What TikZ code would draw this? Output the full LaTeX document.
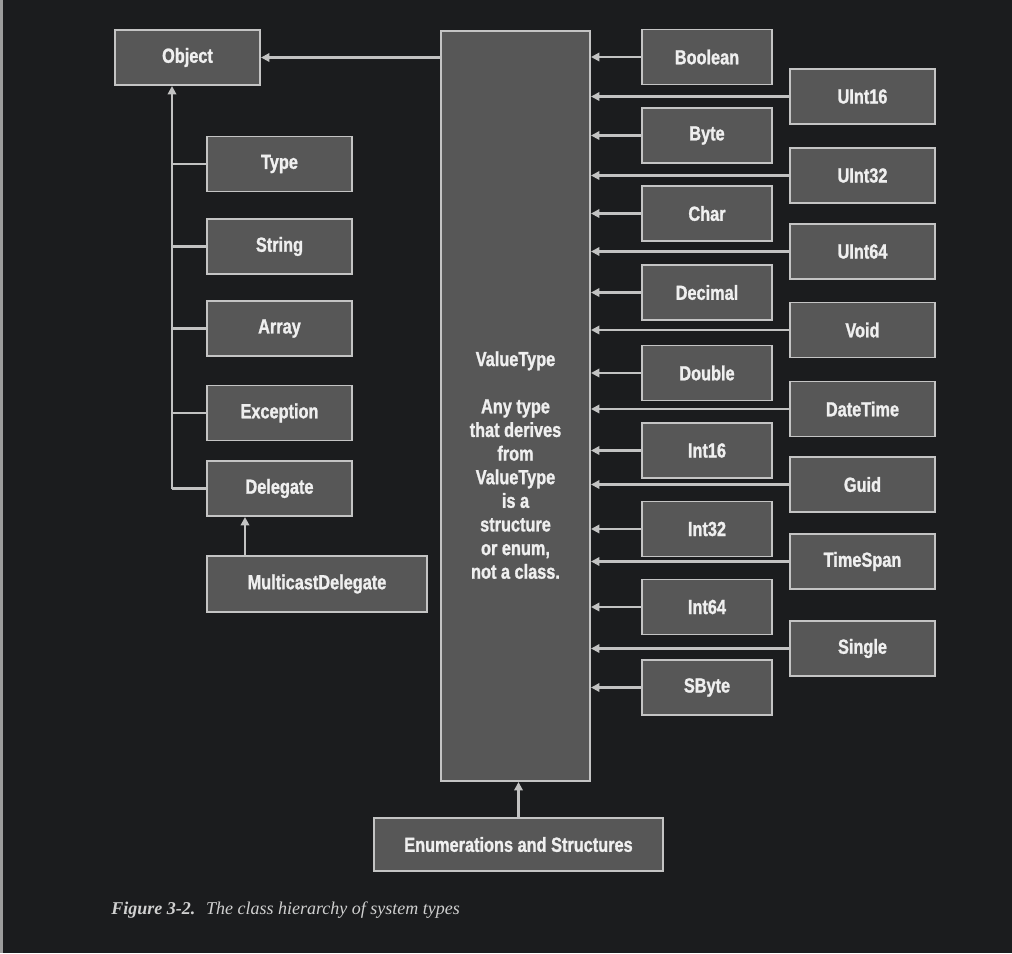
\documentclass[tikz,border=0pt]{standalone}
\usepackage{fontspec}
\usepackage{tikz}
\usetikzlibrary{arrows.meta}
\newfontfamily\boxfont[FakeStretch=0.8,FakeBold=1.2]{Liberation Sans Bold}
\newfontfamily\capfont{Liberation Serif}
\definecolor{bgdark}{HTML}{1B1C1E}
\definecolor{edgegray}{HTML}{9C9C9C}
\definecolor{boxfill}{HTML}{575757}
\definecolor{boxline}{HTML}{C4C4C4}
\definecolor{linkgray}{HTML}{C2C2C2}
\definecolor{labelwhite}{HTML}{EFEFEF}
\definecolor{captiongray}{HTML}{D0D0D0}
\tikzset{
  typebox/.style 2 args={draw=boxline, line width=1.4pt, fill=boxfill, text=labelwhite,
    inner sep=0pt, minimum width=#1*0.025cm, minimum height=#2*0.025cm,
    font=\boxfont\fontsize{14.5}{17}\selectfont},
  vtnote/.style={text=labelwhite, align=center, inner sep=0pt,
    font=\boxfont\fontsize{14.5}{16.8}\selectfont},
  link/.style={draw=linkgray, line width=1.6pt},
  arr/.style={link, -{Triangle[length=6pt,width=6pt]}},
}
\begin{document}
\begin{tikzpicture}[x=0.025cm, y=-0.025cm]
    \useasboundingbox (0,0) rectangle (1012,953);
    % page
    \fill[bgdark] (0,0) rectangle (1012,953);
    \fill[edgegray] (0,0) rectangle (3,953);

    % reference types (left side)
    \node[typebox={145}{55}] (obj) at (187.5,57.5) {Object};
    \node[typebox={145}{55}] (type) at (279.5,164) {Type};
    \node[typebox={145}{55}] (string) at (279.5,246.5) {String};
    \node[typebox={145}{55}] (array) at (279.5,328.5) {Array};
    \node[typebox={145}{55}] (exception) at (279.5,413) {Exception};
    \node[typebox={145}{55}] (delegate) at (279.5,488.5) {Delegate};
    \node[typebox={220}{56}] (mcd) at (317,584) {MulticastDelegate};

    % ValueType column
    \node[typebox={149}{750}] (vt) at (515.5,406) {};
    \node[vtnote, anchor=north] (vttext) at (515.5,351) {ValueType\\[16.8pt]
        Any type\\that derives\\from\\ValueType\\is a\\structure\\or enum,\\not a class.};

    % value types, near row and far row
    \foreach \name/\y in {Boolean/57, Byte/135.5, Char/213.5, Decimal/292.5, Double/373,
                          Int16/450.5, Int32/529, Int64/607, SByte/687.5}
        \node[typebox={130}{55}] (\name) at (707,\y) {\name};
    \foreach \name/\y in {UInt16/96.5, UInt32/175.5, UInt64/251.5, Void/330, DateTime/409,
                          Guid/484.5, TimeSpan/561.5, Single/648.5}
        \node[typebox={145}{55}] (\name) at (862.5,\y) {\name};

    \node[typebox={289}{53}] (enums) at (518.5,844.5) {Enumerations and Structures};

    % inheritance links
    \draw[arr] (vt.west |- obj.east) -- (obj.east);
    \coordinate (trunk) at (172,488.5);
    \draw[arr] (trunk) -- (trunk |- obj.south);
    \foreach \n in {type,string,array,exception,delegate}
        \draw[link] (\n.west) -- (\n.west -| trunk);
    \coordinate (mcdtop) at (245,556);
    \draw[arr] (mcdtop) -- (mcdtop |- delegate.south);
    \foreach \n in {Boolean,Byte,Char,Decimal,Double,Int16,Int32,Int64,SByte,
                    UInt16,UInt32,UInt64,Void,DateTime,Guid,TimeSpan,Single}
        \draw[arr] (\n.west) -- (\n.west -| vt.east);
    \draw[arr] (enums.north) -- (enums.north |- vt.south);

    % caption
    \node[anchor=base west, inner sep=0pt, text=captiongray, font=\capfont\fontsize{12.8}{15}\selectfont] (caption)
        at (111,914) {\textbf{\textit{Figure 3-2.}}\hspace{0.6em}\textit{The class hierarchy of system types}};
\end{tikzpicture}
\end{document}
